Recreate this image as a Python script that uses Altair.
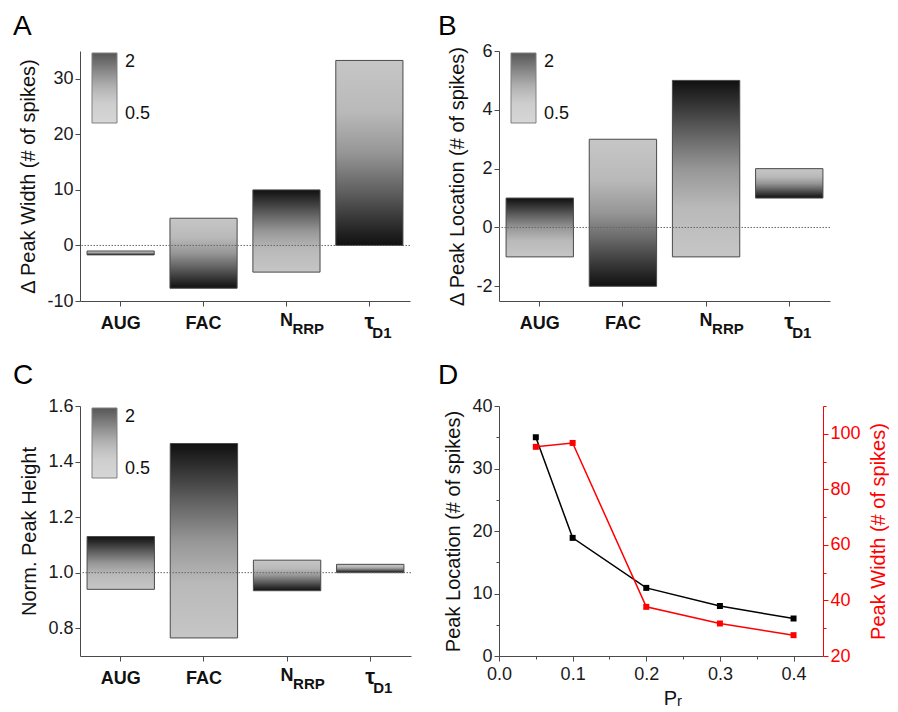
import altair as alt
import pandas as pd

# ---------------- data ----------------
categories = ["AUG", "FAC", "NRRP", "tauD1"]
main_labels = ["AUG", "FAC", "N", "τ"]
sub_labels = ["", "", "RRP", "D1"]

# value of the measure when the parameter is scaled x2 (dark end) and x0.5 (light end)
a_at_2 = [-1.7, -7.7, 10.0, 0.0]
a_at_half = [-1.0, 4.9, -4.8, 33.3]
b_at_2 = [1.0, -2.0, 5.0, 1.0]
b_at_half = [-1.0, 3.0, -1.0, 2.0]
c_at_2 = [1.13, 1.465, 0.935, 1.0]
c_at_half = [0.94, 0.765, 1.045, 1.03]

legend_levels = [0.5, 2]

pr = [0.05, 0.1, 0.2, 0.3, 0.4]
peak_location = [35.0, 18.9, 10.9, 8.0, 6.0]
peak_width = [95.3, 96.7, 37.7, 31.7, 27.5]

x_title_main = "P"
x_title_sub = "r"

# ---------------- style ----------------
FONT = "Liberation Sans"
H = 250
AX = "#4a4a4a"
RED = "#ff0000"
GRAD_STOPS = [(0.0, "#101010"), (0.12, "#303030"), (0.3, "#626262"),
              (0.5, "#969696"), (0.72, "#b9b9b9"), (1.0, "#c6c6c6")]


def gradient(dark_on_top):
    if dark_on_top:
        stops = [alt.GradientStop(offset=o, color=c) for o, c in GRAD_STOPS]
    else:
        stops = [alt.GradientStop(offset=1 - o, color=c) for o, c in reversed(GRAD_STOPS)]
    return alt.Gradient(gradient="linear", stops=stops, x1=0, x2=0, y1=0, y2=1)


leg_domain = [2 - 1.5 * o for o, _ in reversed(GRAD_STOPS)]
leg_range = [c for _, c in reversed(GRAD_STOPS)]


def label_expr(major):
    return f"({major}) ? replace(datum.label, '\u2212', '-') : ''"


def tick_size(major):
    return {"condition": {"test": major, "value": 5}, "value": 3}


def title(letter, dx, offset):
    return alt.TitleParams(letter, anchor="start", frame="group", dx=dx, offset=offset,
                           fontSize=28, fontWeight="normal", font=FONT, color="black")


def bar_panel(letter, dark_vals, light_vals, ydom, yticks, major, fmt, ytitle, ref,
              width, tdx, toff):
    df = pd.DataFrame({"cat": categories, "main": main_labels, "sub": sub_labels,
                       "dark": dark_vals, "light": light_vals})
    base = alt.Chart(df)
    x = alt.X("cat:N", sort=categories,
              scale=alt.Scale(paddingInner=0.19, paddingOuter=0.085),
              axis=alt.Axis(labels=False, title=None, tickSize=5))
    y = alt.Y("light:Q", scale=alt.Scale(domain=ydom, nice=False, zero=False),
              axis=alt.Axis(values=yticks, format=fmt, labelExpr=label_expr(major),
                            tickSize=tick_size(major), title=ytitle))
    bars_top = base.transform_filter("datum.dark > datum.light").mark_bar(
        fill=gradient(True), stroke="#4a4a4a", strokeWidth=1).encode(x=x, y=y, y2="dark:Q")
    bars_bot = base.transform_filter("datum.dark <= datum.light").mark_bar(
        fill=gradient(False), stroke="#4a4a4a", strokeWidth=1).encode(x=x, y=y, y2="dark:Q")
    rule = alt.Chart(pd.DataFrame({"r": [ref]})).mark_rule(
        color="#666666", strokeDash=[1.5, 1.5], strokeWidth=1).encode(y=alt.datum(ref))
    leg = alt.Chart(pd.DataFrame({"level": legend_levels})).mark_point(
        filled=True, size=0).encode(
        color=alt.Color("level:Q",
                        scale=alt.Scale(domain=leg_domain, range=leg_range, interpolate="rgb"),
                        legend=alt.Legend(values=legend_levels, title=None, orient="none",
                                          legendX=12, legendY=2, direction="vertical",
                                          format=".1~f",
                                          gradientLength=70, gradientThickness=25,
                                          labelFontSize=18, labelFont=FONT, labelColor="#111",
                                          labelOffset=8,
                                          gradientStrokeColor="#4a4a4a",
                                          gradientStrokeWidth=1, padding=0)))

    def txt(flt, field, size, dy, dx, align):
        return base.transform_filter(flt).mark_text(
            font=FONT, fontWeight="bold", fontSize=size, align=align,
            baseline="alphabetic", dx=dx, color="#111").encode(
            x=x, y=alt.value(H + dy), text=f"{field}:N")

    texts = [
        txt("datum.sub == ''", "main", 18, 28, 0, "center"),
        txt("datum.cat == 'NRRP'", "main", 18, 25, 0, "center"),
        txt("datum.cat == 'NRRP'", "sub", 15, 33, 6, "left"),
        txt("datum.cat == 'tauD1'", "main", 22, 28, 0, "center"),
        txt("datum.cat == 'tauD1'", "sub", 15, 37, 3, "left"),
    ]
    return alt.layer(bars_top, bars_bot, rule, leg, *texts).properties(
        width=width, height=H, title=title(letter, tdx, toff))


panel_a = bar_panel("A", a_at_2, a_at_half, [-10, 35], list(range(-10, 35, 5)),
                    "datum.value % 10 === 0", "d", "Δ Peak Width (# of spikes)", 0,
                    330, -67, 10)
panel_b = bar_panel("B", b_at_2, b_at_half, [-2.5, 6], list(range(-2, 7)),
                    "datum.value % 2 === 0", "d", "Δ Peak Location (# of spikes)", 0,
                    331, -61, 1)
panel_c = bar_panel("C", c_at_2, c_at_half, [0.7, 1.6],
                    [0.8, 0.9, 1.0, 1.1, 1.2, 1.3, 1.4, 1.5, 1.6],
                    "round(datum.value * 10) % 2 === 0", ".1f", "Norm. Peak Height", 1,
                    331, -67, 7)

# ---------------- panel D ----------------
WD = 324
ddf = pd.DataFrame({"pr": pr, "loc": peak_location, "width": peak_width})
dbase = alt.Chart(ddf)
xmajor = "abs(round(datum.value * 10) - datum.value * 10) < 0.001"
xd = alt.X("pr:Q", scale=alt.Scale(domain=[0, 0.44], nice=False, zero=False),
           axis=alt.Axis(values=[0, 0.05, 0.1, 0.15, 0.2, 0.25, 0.3, 0.35, 0.4],
                         format=".1f", labelExpr=label_expr(xmajor),
                         tickSize=tick_size(xmajor), title=x_title_main,
                         labelPadding=4,
                         titleFontSize=20, titleX=WD / 2 + 9, titlePadding=5))
yl = alt.Y("loc:Q", scale=alt.Scale(domain=[0, 40], nice=False),
           axis=alt.Axis(values=list(range(0, 41, 5)), format="d",
                         labelExpr=label_expr("datum.value % 10 === 0"),
                         tickSize=tick_size("datum.value % 10 === 0"),
                         title="Peak Location (# of spikes)"))
yr = alt.Y("width:Q", scale=alt.Scale(domain=[20, 110], nice=False, zero=False),
           axis=alt.Axis(orient="right", values=list(range(20, 111, 10)), format="d",
                         labelExpr=label_expr("datum.value % 20 === 0"),
                         tickSize=tick_size("datum.value % 20 === 0"),
                         title="Peak Width (# of spikes)", titleAngle=270,
                         titleBaseline="top",
                         domainColor=RED, tickColor=RED, labelColor=RED, titleColor=RED))

sub_r = alt.Chart(pd.DataFrame({"t": [x_title_sub]})).mark_text(
    font=FONT, fontSize=15, align="left", baseline="alphabetic", color="#111").encode(
    x=alt.value(WD / 2 + 16), y=alt.value(H + 50), text="t:N")

black = alt.layer(
    dbase.mark_line(color="#000000", strokeWidth=1.5).encode(x=xd, y=yl),
    dbase.mark_square(color="#000000", size=36, opacity=1).encode(x=xd, y=yl),
    sub_r,
)
red = alt.layer(
    dbase.mark_line(color=RED, strokeWidth=1.5).encode(x=xd, y=yr),
    dbase.mark_square(color=RED, size=36, opacity=1).encode(x=xd, y=yr),
)
panel_d = alt.layer(black, red).resolve_scale(y="independent").properties(
    width=WD, height=H, title=title("D", -61, 7))

chart = alt.concat(panel_a, panel_b, panel_c, panel_d, columns=2, bounds="flush",
                   spacing={"row": 105, "column": 88}).resolve_scale(
    color="independent", x="independent", y="independent"
).properties(
    padding={"left": 5, "top": 5, "right": 0, "bottom": 0}
).configure_view(strokeWidth=0).configure_axis(
    labelFont=FONT, titleFont=FONT, labelFontSize=18, titleFontSize=20,
    titleFontWeight="normal", labelColor="#1a1a1a", titleColor="#111111",
    domainColor=AX, tickColor=AX, grid=False, labelPadding=2, titlePadding=8,
    labelFlush=False, labelOverlap=False
)

chart.save("out.html", embed_options={"renderer": "svg", "actions": False})
